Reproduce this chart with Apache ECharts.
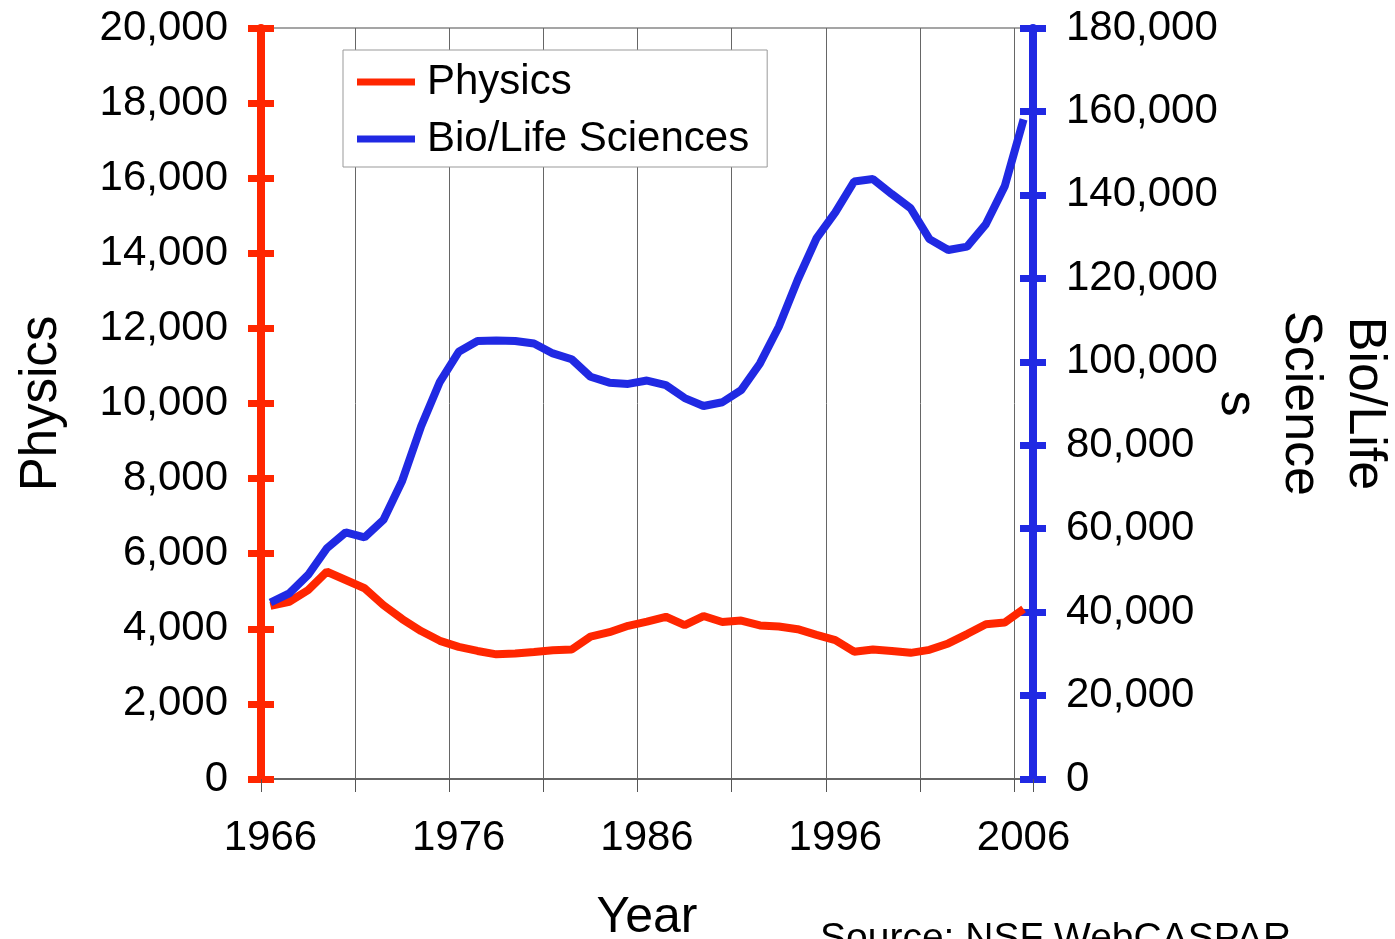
<!DOCTYPE html>
<html>
<head>
<meta charset="utf-8">
<title>Physics vs Bio/Life Sciences</title>
<script src="https://cdn.jsdelivr.net/npm/echarts@6.0.0/dist/echarts.min.js"></script>
<style>
  html, body { margin: 0; padding: 0; background: #fff; }
  #chart { width: 1395px; height: 939px; }
</style>
</head>
<body>
<div id="chart"></div>
<script>
  // data
  var years = ['1966','1967','1968','1969','1970','1971','1972','1973','1974','1975',
               '1976','1977','1978','1979','1980','1981','1982','1983','1984','1985',
               '1986','1987','1988','1989','1990','1991','1992','1993','1994','1995',
               '1996','1997','1998','1999','2000','2001','2002','2003','2004','2005','2006'];
  var physics = [4610, 4720, 5030, 5520, 5300, 5080, 4630, 4260, 3940, 3680,
                 3520, 3410, 3320, 3340, 3380, 3430, 3450, 3790, 3910, 4080,
                 4190, 4320, 4100, 4340, 4180, 4220, 4090, 4060, 3990, 3840,
                 3700, 3390, 3450, 3410, 3360, 3440, 3610, 3860, 4120, 4170, 4530];
  var bio = [42300, 44500, 48900, 55300, 59100, 57900, 62100, 71500, 84500, 95200,
             102400, 105000, 105100, 105000, 104400, 102000, 100600, 96400, 95000, 94700,
             95500, 94400, 91300, 89400, 90300, 93200, 99600, 108400, 119600, 129600,
             135800, 143200, 143800, 140200, 136800, 129400, 126800, 127600, 133000, 142100, 158100];
  var leftTicks = [0, 20000, 2000];
  var rightTicks = [0, 180000, 20000];

  var RED = '#ff2600';
  var BLUE = '#2029e3';
  var SANS = '"Liberation Sans", Arial, sans-serif';

  function commas(v) {
    return String(v).replace(/\B(?=(\d{3})+(?!\d))/g, ',');
  }

  var myChart = echarts.init(document.getElementById('chart'));
  var option = {
    animation: false,
    backgroundColor: '#fff',
    grid: {
      left: 261, right: 362, top: 28, bottom: 160,
      outerBoundsMode: 'none',
      containLabel: false,
      show: true, borderColor: '#888', borderWidth: 1.5
    },
    legend: {
      left: 343, top: 50,
      orient: 'vertical',
      backgroundColor: '#fff',
      borderColor: '#999', borderWidth: 1,
      padding: [6, 18, 2, 14],
      itemGap: 5,
      itemWidth: 58, itemHeight: 7,
      icon: 'rect',
      textStyle: { fontFamily: SANS, fontSize: 42, lineHeight: 52, color: '#000', padding: [0, 0, 0, 7] },
      data: ['Physics', 'Bio/Life Sciences']
    },
    xAxis: {
      type: 'category',
      data: years,
      boundaryGap: true,
      name: 'Year',
      nameLocation: 'middle',
      nameGap: 114,
      nameTextStyle: { fontFamily: SANS, fontSize: 50, color: '#000' },
      axisLine: { lineStyle: { color: '#666', width: 2 } },
      axisTick: {
        show: true, length: 13,
        interval: function (i) { return i % 5 === 0; },
        lineStyle: { color: '#555', width: 1 }
      },
      axisLabel: {
        interval: function (i) { return i % 10 === 0; },
        margin: 38,
        fontFamily: SANS, fontSize: 42, color: '#000'
      },
      splitLine: {
        show: true,
        interval: function (i) { return i % 5 === 0; },
        lineStyle: { color: '#666', width: 1 }
      }
    },
    yAxis: [
      {
        type: 'value', position: 'left',
        min: leftTicks[0], max: leftTicks[1], interval: leftTicks[2],
        name: 'Physics',
        nameLocation: 'middle',
        nameGap: 194,
        nameTextStyle: { fontFamily: SANS, fontSize: 51, color: '#000' },
        axisLine: { show: true, lineStyle: { color: RED, width: 8 } },
        axisTick: { show: true, length: 13, lineStyle: { color: RED, width: 7 } },
        axisLabel: { margin: 33, fontFamily: SANS, fontSize: 42, color: '#000', formatter: commas },
        splitLine: { show: false }
      },
      {
        type: 'value', position: 'right',
        min: rightTicks[0], max: rightTicks[1], interval: rightTicks[2],
        name: 'Bio/Life\nScience\ns',
        nameLocation: 'middle',
        nameRotate: -90,
        nameGap: 171,
        nameMoveOverlap: false,
        nameTextStyle: { fontFamily: SANS, fontSize: 52, lineHeight: 64, color: '#000' },
        axisLine: { show: true, lineStyle: { color: BLUE, width: 8 } },
        axisTick: { show: true, length: 13, lineStyle: { color: BLUE, width: 7 } },
        axisLabel: { margin: 33, fontFamily: SANS, fontSize: 42, color: '#000', formatter: commas },
        splitLine: { show: false }
      },
      // inner halves of the crossing tick marks
      {
        type: 'value', position: 'left',
        min: leftTicks[0], max: leftTicks[1], interval: leftTicks[2],
        axisLine: { show: false },
        axisTick: { show: true, inside: true, length: 13, lineStyle: { color: RED, width: 7 } },
        axisLabel: { show: false },
        splitLine: { show: false }
      },
      {
        type: 'value', position: 'right',
        min: rightTicks[0], max: rightTicks[1], interval: rightTicks[2],
        axisLine: { show: false },
        axisTick: { show: true, inside: true, length: 13, lineStyle: { color: BLUE, width: 7 } },
        axisLabel: { show: false },
        splitLine: { show: false }
      }
    ],
    series: [
      {
        name: 'Physics',
        type: 'line',
        yAxisIndex: 0,
        data: physics,
        symbol: 'none',
        color: RED,
        lineStyle: { color: RED, width: 8 }
      },
      {
        name: 'Bio/Life Sciences',
        type: 'line',
        yAxisIndex: 1,
        data: bio,
        symbol: 'none',
        color: BLUE,
        lineStyle: { color: BLUE, width: 8 }
      }
    ],
    graphic: [
      {
        type: 'text',
        left: 820, top: 920,
        style: { text: 'Source: NSF WebCASPAR', fontFamily: SANS, fontSize: 39, fill: '#000' }
      }
    ]
  };
  myChart.setOption(option);
</script>
</body>
</html>
